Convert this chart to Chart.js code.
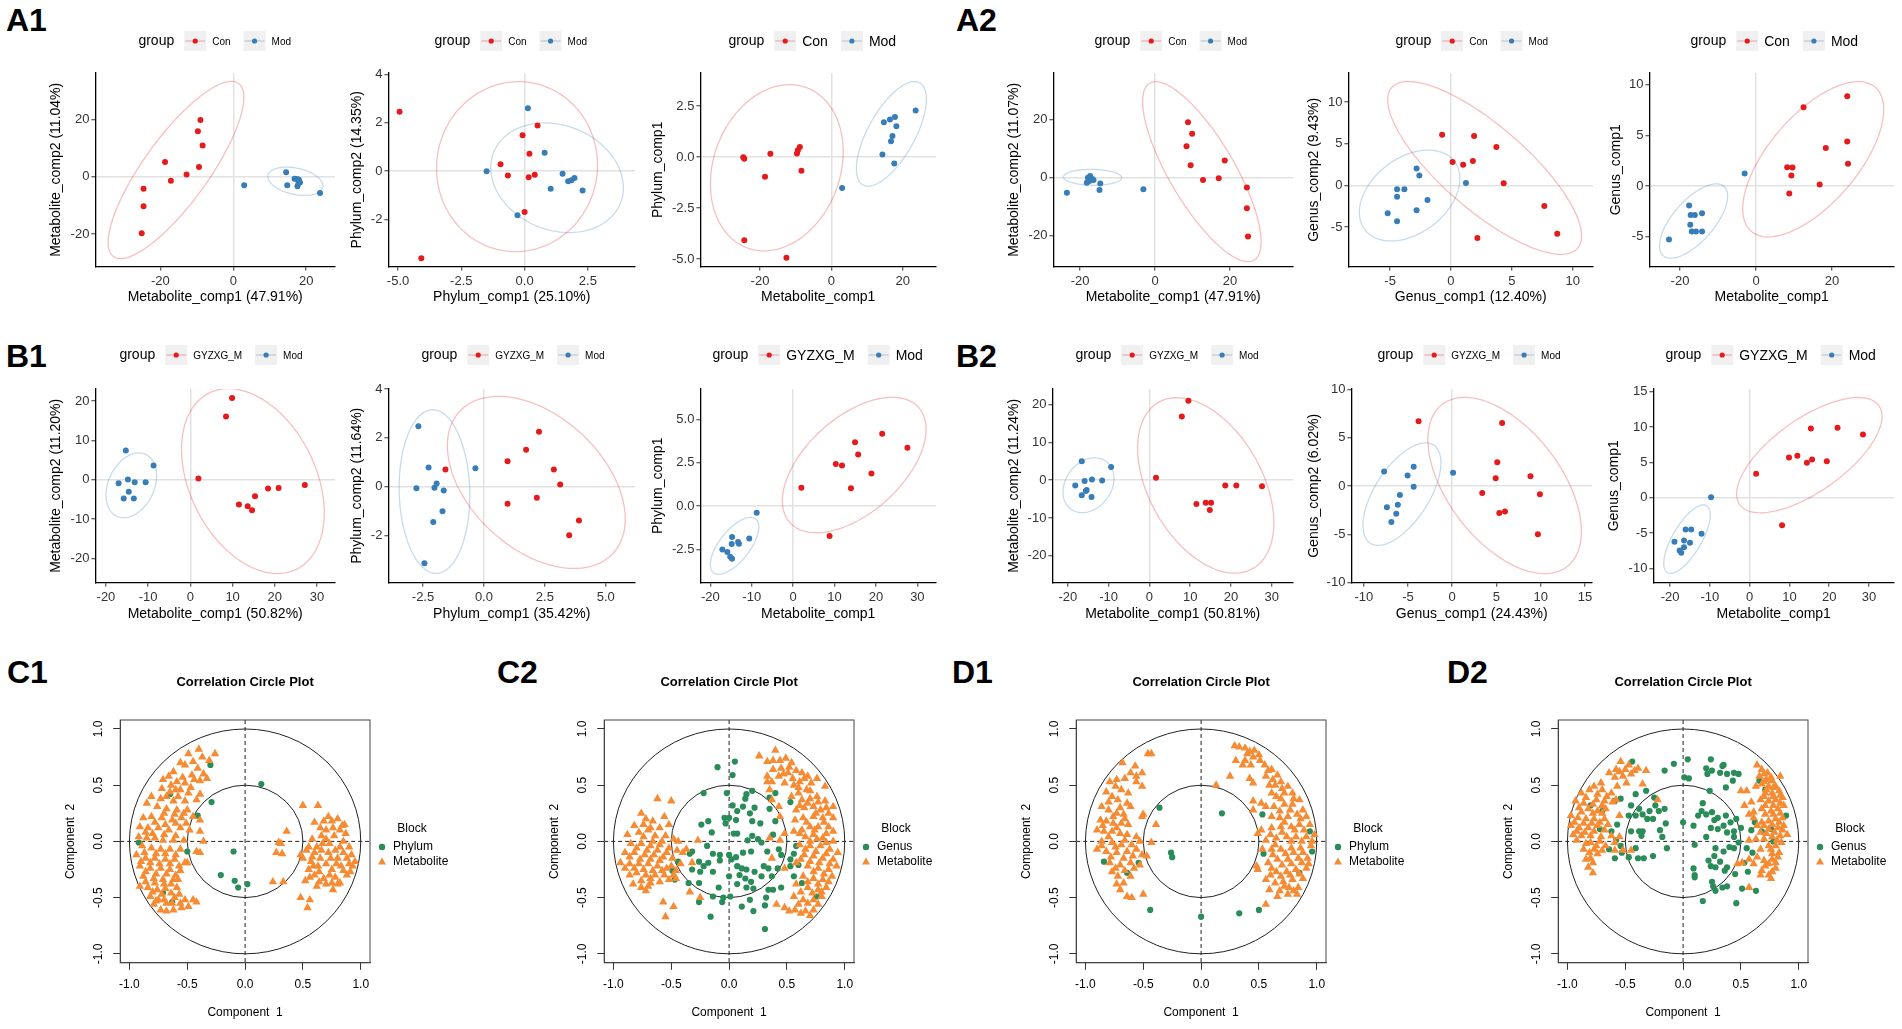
<!DOCTYPE html>
<html>
<head>
<meta charset="utf-8">
<script src="https://cdn.jsdelivr.net/npm/chart.js@4.4.1/dist/chart.umd.min.js"></script>
<style>
  body { margin: 0; background: #fff; width: 1902px; height: 1029px; overflow: hidden; position: relative; }
  canvas { position: absolute; }
  .lab { position: absolute; font: bold 32px "Liberation Sans", Arial, sans-serif; line-height: 1; color: #000; }
</style>
</head>
<body>
<div class="lab" style="left:6px;top:4px">A1</div>
<div class="lab" style="left:956px;top:4px">A2</div>
<div class="lab" style="left:6px;top:340px">B1</div>
<div class="lab" style="left:956px;top:340px">B2</div>
<div class="lab" style="left:7px;top:656px">C1</div>
<div class="lab" style="left:497px;top:656px">C2</div>
<div class="lab" style="left:952px;top:656px">D1</div>
<div class="lab" style="left:1447px;top:656px">D2</div>
<script>
// ---- group names ----
const groupsA = ["Con", "Mod"];
const groupsB = ["GYZXG_M", "Mod"];

// ---- A1 (Con vs Mod, Phylum) ----
const A1_metab_con = [[-9.0,19.8],[-9.7,15.9],[-8.4,10.9],[-18.7,5.2],[-9.4,3.4],[-12.8,0.8],[-17.1,-1.4],[-24.6,-4.2],[-24.6,-10.3],[-25.1,-19.7]];
const A1_metab_mod = [[3.0,-2.9],[14.5,1.6],[14.8,-2.9],[16.8,-0.7],[17.5,-0.8],[18.0,-1.0],[18.3,-2.0],[17.6,-3.3],[17.9,-2.2],[23.8,-5.6]];
const A1_phylum_con = [[-4.94,2.46],[0.51,1.89],[-0.08,1.49],[0.19,0.72],[-0.95,0.29],[-0.66,-0.18],[0.16,-0.25],[0.40,-0.15],[0.0,-1.70],[-4.08,-3.61]];
const A1_phylum_mod = [[0.13,2.61],[0.79,0.76],[-1.5,0],[1.5,-0.11],[1.72,-0.42],[1.85,-0.38],[1.97,-0.28],[1.03,-0.73],[2.29,-0.8],[-0.28,-1.83]];
const A1_cross_con = [[-24.7,0.0],[-24.4,-0.08],[-17.1,0.16],[-18.6,-0.96],[-9.66,0.18],[-9.4,0.34],[-8.85,0.5],[-8.4,-0.67],[-24.4,-4.07],[-12.6,-4.93]];
const A1_cross_mod = [[3.0,-1.51],[14.3,0.13],[14.7,1.71],[16.4,1.84],[17.8,1.97],[18.2,1.51],[17.1,1.03],[16.7,0.78],[17.6,-0.31],[23.6,2.28]];

// ---- A2 (Con vs Mod, Genus) ----
const A2_metab_con = [[8.8,19.2],[9.9,15.2],[8.4,10.9],[9.5,4.3],[12.8,-0.8],[18.6,6.0],[17.0,-0.2],[24.5,-3.4],[24.5,-10.5],[24.8,-20.3]];
const A2_metab_mod = [[-23.5,-5.2],[-17.9,0],[-17.3,0.6],[-16.8,-0.3],[-18.2,-1.7],[-17.5,-1.1],[-16.4,-0.8],[-14.6,-2.0],[-14.8,-4.2],[-3.1,-4.0]];
const A2_genus_con = [[-0.73,6.08],[1.9,5.92],[3.73,4.6],[0.13,2.8],[1.0,2.48],[1.8,2.92],[4.33,0.24],[7.67,-2.48],[8.73,-5.8],[2.17,-6.32]];
const A2_genus_mod = [[-2.83,2.04],[-2.6,1.2],[-4.43,-0.48],[-3.83,-0.48],[-4.43,-1.36],[-1.93,-1.76],[-2.83,-3.0],[-5.2,-3.36],[-4.43,-4.32],[1.23,0.28]];
const A2_cross_con = [[12.5,7.77],[24.0,8.85],[24.0,4.39],[18.35,3.77],[24.2,2.2],[8.2,1.87],[9.6,1.84],[9.3,1.05],[16.75,0.16],[8.75,-0.72]];
const A2_cross_mod = [[-3.0,1.25],[-17.6,-1.9],[-17.2,-2.85],[-16.1,-2.85],[-14.2,-2.66],[-17.3,-3.8],[-16.9,-4.46],[-15.8,-4.46],[-14.2,-4.46],[-22.9,-5.25]];

// ---- B1 (GYZXG_M vs Mod, Phylum) ----
const B1_metab_gy = [[9.87,20.8],[8.44,16.1],[1.9,0.34],[11.5,-6.26],[13.57,-6.68],[14.6,-7.69],[15.3,-4.14],[18.4,-2.2],[20.9,-2.03],[27.1,-1.27]];
const B1_metab_mod = [[-15.3,7.44],[-8.73,3.63],[-14.8,0.08],[-13.2,-0.59],[-10.6,-0.59],[-17.0,-0.85],[-14.6,-3.04],[-15.8,-4.73],[-13.4,-4.73]];
const B1_phylum_gy = [[-1.58,0.70],[0.97,1.04],[1.73,1.51],[2.26,2.25],[2.87,0.70],[3.13,0.08],[2.17,-0.46],[0.97,-0.71],[3.9,-1.39],[3.5,-2.0]];
const B1_phylum_mod = [[-2.69,2.47],[-2.27,0.78],[-2.77,-0.07],[-2.03,-0.05],[-1.94,0.12],[-1.65,-0.16],[-1.70,-1.01],[-2.08,-1.45],[-2.44,-3.15],[-0.35,0.75]];
const B1_cross_gy = [[1.98,1.06],[10.3,2.44],[11.8,2.35],[14.95,3.69],[15.7,2.98],[13.96,1.04],[18.9,1.88],[21.5,4.19],[27.6,3.38],[8.8,-1.73]];
const B1_cross_mod = [[-8.8,-0.38],[-10.6,-1.87],[-14.75,-1.79],[-13.3,-2.08],[-13.1,-2.17],[-14.85,-2.19],[-17.1,-2.5],[-15.9,-2.65],[-15.2,-2.92],[-14.75,-3.04]];

// ---- B2 (GYZXG_M vs Mod, Genus) ----
const B2_metab_gy = [[9.55,21.0],[7.94,16.8],[1.6,0.6],[11.5,-6.3],[13.8,-6.0],[15.1,-6.0],[14.8,-7.9],[18.6,-1.4],[21.3,-1.4],[27.6,-1.6]];
const B2_metab_mod = [[-16.6,5.0],[-9.4,3.5],[-18.2,-1.4],[-15.9,-0.26],[-14.1,0.18],[-11.6,-0.09],[-15.6,-2.9],[-16.6,-4.0],[-15.4,-2.64],[-14.2,-4.48]];
const B2_genus_gy = [[-3.81,6.72],[5.64,6.55],[5.09,2.48],[4.91,0.83],[8.85,1.03],[3.39,-0.72],[9.91,-0.83],[5.32,-2.79],[5.96,-2.62],[9.68,-5.0]];
const B2_genus_mod = [[-7.7,1.52],[-4.36,2.0],[-5.05,1.1],[-4.36,-0.07],[-5.92,-0.93],[-7.39,-2.2],[-6.15,-1.93],[-6.33,-2.86],[-6.88,-3.72],[0.09,1.38]];
const B2_cross_gy = [[1.63,3.4],[9.9,5.7],[12.0,5.94],[15.4,9.81],[14.4,4.95],[15.7,5.42],[19.4,5.19],[22.1,9.91],[28.5,8.96],[8.16,-3.87]];
const B2_cross_mod = [[-9.7,0.09],[-12.1,-5.09],[-16.1,-4.48],[-14.7,-4.48],[-16.5,-6.04],[-15.0,-6.37],[-18.9,-6.23],[-17.6,-7.45],[-16.5,-6.98],[-17.2,-7.78]];

// ---- confidence ellipses: [xmin, xmax, ymin, ymax, x at top] ----
const A1_metab_ell = [[-34.3,2.9,-28.5,33.3,-0.5],[9.5,24.6,-6.5,3.4,14.6]];
const A1_phylum_ell = [[-3.48,2.88,-3.34,3.71,-0.24],[-1.34,3.9,-2.55,2.0,0.8]];
const A1_cross_ell = [[-33.9,3.3,-4.59,3.55,-11.7],[7.0,26.6,-1.42,3.7,23.3]];
const A2_metab_ell = [[-3.3,28.3,-29,33.2,0.2],[-24.4,-8.9,-2.6,2.9,-17]];
const A2_genus_ell = [[-5.2,10.73,-8.28,12.48,-3.5],[-7.53,0.73,-6.68,4.24,-1.87]];
const A2_cross_ell = [[-3.5,33.6,-5.0,10.3,26.9],[-25.4,-7.47,-7.1,0.23,-10.45]];
const B1_metab_ell = [[-2.1,31.7,-23.8,23.2,9],[-20,-8,-9.6,6.85,-12.2]];
const B1_phylum_ell = [[-1.5,5.8,-3.36,3.7,0.6],[-3.48,-0.58,-3.56,3.15,-2.1]];
const B1_cross_ell = [[-2.6,32.1,-1.54,6.29,23.9],[-20.0,-8.3,-3.94,-0.65,-10.3]];
const B2_metab_ell = [[-2.9,30.5,-24.6,21.8,6.7],[-21.2,-8.7,-8.6,5.9,-13.4]];
const B2_genus_ell = [[-2.75,14.6,-9.07,9.2,1.4],[-10.1,-1.28,-6.14,4.48,-3.0]];
const B2_cross_ell = [[-3.27,33.3,-2.12,14.2,27.3],[-21.6,-9.9,-10.7,-1.0,-11.6]];

// ---- tick values ----
const ticks20 = [-20, 0, 20];
const ticks10 = [-20, -10, 0, 10, 20, 30];
const ticks10y = [-20, -10, 0, 10, 20];
const ticksPhyA1x = [-5, -2.5, 0, 2.5];
const ticksPhyA1y = [-2, 0, 2, 4];
const ticksHalf = [-5, -2.5, 0, 2.5];
const ticks5 = [-5, 0, 5, 10];
const ticksB1px = [-2.5, 0, 2.5, 5];
const ticksB1cy = [-2.5, 0, 2.5, 5];
const ticksB2gx = [-10, -5, 0, 5, 10, 15];
const ticksB2gy = [-10, -5, 0, 5, 10];
const ticksB2cy = [-10, -5, 0, 5, 10, 15];
const ticksCircle = [-1, -0.5, 0, 0.5, 1];

// ---- correlation circle data ----
const C1_phylum = [[-0.30,0.68],[0.14,0.51],[-0.29,0.35],[-0.41,0.23],[-0.50,-0.09],[-0.10,-0.09],[-0.21,-0.30],[-0.09,-0.35],[-0.06,-0.41],[0.02,-0.38],[-0.71,-0.46],[-0.63,-0.54],[-0.65,0.42],[-0.92,-0.01]];
const C1_metab = [
 [-0.49,0.78],[-0.40,0.82],[-0.26,0.78],[-0.31,0.72],[-0.37,0.75],[-0.45,0.71],[-0.52,0.68],[-0.56,0.70],[-0.41,0.65],[-0.36,0.60],[-0.33,0.56],[-0.39,0.54],[-0.46,0.59],[-0.62,0.62],[-0.66,0.58],[-0.71,0.55],[-0.59,0.53],[-0.52,0.52],
 [-0.72,0.47],[-0.65,0.44],[-0.56,0.46],[-0.49,0.43],[-0.39,0.42],[-0.42,0.37],[-0.52,0.36],[-0.62,0.36],[-0.73,0.38],[-0.81,0.40],[-0.85,0.34],[-0.76,0.31],[-0.68,0.29],[-0.59,0.28],[-0.50,0.28],[-0.45,0.22],[-0.55,0.21],[-0.63,0.19],[-0.72,0.21],[-0.81,0.22],[-0.88,0.21],[-0.91,0.13],[-0.84,0.12],[-0.75,0.12],[-0.66,0.10],[-0.56,0.12],[-0.48,0.10],[-0.39,0.09],[-0.36,0.0],[-0.42,-0.09],[-0.39,0.19],
 [-0.92,0.04],[-0.85,0.03],[-0.78,0.03],[-0.71,0.01],[-0.62,0.01],[-0.53,0.01],[-0.89,-0.04],[-0.81,-0.06],[-0.73,-0.07],[-0.65,-0.07],[-0.56,-0.07],[-0.94,-0.12],[-0.86,-0.15],[-0.78,-0.15],[-0.69,-0.16],[-0.61,-0.16],[-0.52,-0.19],[-0.91,-0.22],[-0.82,-0.24],[-0.73,-0.24],[-0.65,-0.25],[-0.56,-0.26],[-0.88,-0.31],[-0.79,-0.33],[-0.71,-0.34],[-0.62,-0.34],[-0.59,-0.41],[-0.91,-0.40],[-0.84,-0.41],[-0.76,-0.43],[-0.69,-0.42],
 [-0.82,-0.49],[-0.75,-0.52],[-0.68,-0.55],[-0.73,-0.61],[-0.68,-0.62],[-0.62,-0.61],[-0.55,-0.59],[-0.49,-0.58],[-0.42,-0.54],[-0.45,-0.52],[-0.52,-0.52],[-0.61,-0.50],[-0.79,-0.56],[-0.58,-0.34],[-0.50,-0.19],[-0.39,-0.10],
 [-0.60,0.46],[-0.68,0.40],[-0.58,0.40],[-0.47,0.48],[-0.44,0.55],[-0.54,0.57],[-0.64,0.50],[-0.70,0.25],[-0.61,0.24],[-0.53,0.25],[-0.78,0.17],[-0.69,0.15],[-0.60,0.16],[-0.51,0.16],[-0.86,0.08],[-0.80,0.07],[-0.70,0.06],[-0.60,0.05],[-0.87,-0.10],[-0.77,-0.11],[-0.69,-0.11],[-0.60,-0.12],[-0.90,-0.18],[-0.82,-0.19],[-0.74,-0.20],[-0.65,-0.20],[-0.57,-0.22],[-0.86,-0.27],[-0.77,-0.29],[-0.68,-0.29],[-0.60,-0.30],[-0.86,-0.36],[-0.78,-0.37],[-0.70,-0.38],[-0.64,-0.38],[-0.80,-0.45],[-0.72,-0.47],[-0.64,-0.46],[-0.57,-0.47],[-0.70,-0.52],[-0.63,-0.55],[-0.56,-0.55],[-0.77,-0.53],
 [0.50,0.32],[0.63,0.32],[0.36,0.09],[0.29,-0.01],[0.31,-0.02],[0.27,-0.10],[0.32,-0.11],[0.24,-0.36],[0.33,-0.36],[0.48,-0.50],[0.56,-0.52],[0.54,-0.59],[0.76,-0.43],[0.82,-0.37],[0.86,0.15],
 [0.55,-0.05],[0.60,-0.10],[0.65,-0.15],[0.70,-0.20],[0.75,-0.25],[0.80,-0.15],[0.85,-0.10],[0.90,-0.20],[0.93,-0.22],[0.88,-0.30],[0.78,-0.32],[0.68,-0.33],[0.60,-0.30],[0.55,-0.25],[0.50,-0.15],[0.52,-0.35],[0.62,-0.40],[0.72,-0.10],[0.77,0.05],[0.70,0.10],[0.75,0.18],[0.80,0.20],[0.82,0.10],[0.66,0.05],[0.60,0.17],[0.85,0.00],[0.90,-0.05],[0.95,-0.18],[0.73,-0.02],[0.63,-0.22],[0.57,-0.18],[0.83,-0.22],[0.68,0.18],[0.78,-0.08],[0.87,0.07],[0.48,-0.12],[0.58,0.02],[0.70,-0.38],[0.80,-0.38],[0.65,0.12],[0.72,0.22],[0.62,-0.05],[0.92,-0.12],[0.53,-0.08],
 [0.58,-0.14],[0.66,-0.08],[0.74,-0.15],[0.82,-0.05],[0.88,-0.15],[0.85,-0.26],[0.73,-0.30],[0.64,-0.27],[0.56,-0.32],[0.67,-0.02],[0.76,0.12],[0.70,0.02],[0.79,-0.20],[0.91,-0.27],[0.59,-0.22],[0.64,-0.36],[0.75,-0.37],[0.84,0.14]
];

const C2_genus = [
 [-0.10,0.66],[0.05,0.71],[0.03,0.59],[-0.22,0.43],[-0.02,0.43],[0.15,0.42],[0.20,0.45],[0.14,0.38],[0.03,0.32],[0.12,0.31],[0.22,0.30],[0.07,0.27],[0.18,0.25],[0.35,0.29],[-0.04,0.21],[0.0,0.21],[0.06,0.19],[0.20,0.18],[0.27,0.16],[0.40,0.18],[-0.24,0.15],[-0.18,0.18],[-0.03,0.16],[-0.15,0.08],[0.04,0.07],[0.07,0.07],[0.20,0.05],[0.38,0.06],[0.16,0.01],[0.25,0.02],[0.28,-0.01],
 [-0.19,-0.04],[-0.32,-0.09],[-0.34,-0.11],[-0.14,-0.11],[-0.08,-0.12],[0.0,-0.12],[0.06,-0.14],[0.12,-0.10],[0.19,-0.09],[0.33,-0.09],[0.45,-0.12],[-0.44,-0.18],[-0.26,-0.18],[-0.18,-0.19],[-0.08,-0.17],[0.02,-0.16],[0.07,-0.22],[0.11,-0.24],[0.15,-0.25],[0.22,-0.27],[0.30,-0.22],[0.34,-0.24],[0.42,-0.24],[0.53,-0.22],
 [-0.49,-0.26],[-0.32,-0.25],[-0.25,-0.27],[-0.22,-0.22],[-0.14,-0.27],[0.0,-0.31],[0.09,-0.30],[0.14,-0.33],[0.19,-0.36],[0.28,-0.31],[0.37,-0.31],[-0.47,-0.34],[-0.35,-0.37],[-0.26,-0.37],[-0.09,-0.41],[0.07,-0.38],[0.15,-0.41],[0.21,-0.42],[0.34,-0.43],[0.38,-0.43],[0.45,-0.41],
 [-0.14,-0.49],[-0.05,-0.50],[-0.06,-0.54],[0.01,-0.49],[0.18,-0.52],[0.32,-0.50],[-0.26,-0.54],[0.11,-0.58],[0.21,-0.62],[0.31,-0.57],[-0.16,-0.67],[0.31,-0.78],
 [0.56,-0.11],[0.53,-0.16],[0.58,-0.04],[0.56,-0.31],[0.63,-0.37],[0.76,-0.49],[0.40,0.43],[0.35,0.39],[0.53,0.35],[0.43,-0.07],[0.60,-0.21]
];
const C2_metab = [
 [-0.62,0.38],[-0.50,0.36],[-0.56,0.22],[-0.76,0.25],[-0.72,0.20],[-0.66,0.18],[-0.60,0.12],[-0.52,0.15],[-0.82,0.14],[-0.78,0.08],[-0.70,0.10],[-0.64,0.05],[-0.55,0.05],[-0.48,0.02],[-0.88,0.06],[-0.85,-0.02],[-0.76,-0.02],[-0.68,-0.04],[-0.60,-0.03],[-0.52,-0.06],[-0.45,-0.08],[-0.90,-0.10],[-0.82,-0.10],[-0.73,-0.12],[-0.65,-0.12],[-0.57,-0.14],[-0.49,-0.15],[-0.94,-0.19],[-0.86,-0.20],[-0.78,-0.20],[-0.70,-0.20],[-0.62,-0.22],[-0.54,-0.24],[-0.46,-0.26],[-0.90,-0.24],[-0.80,-0.28],[-0.72,-0.30],[-0.64,-0.30],[-0.56,-0.30],[-0.48,-0.30],[-0.76,-0.35],[-0.68,-0.37],[-0.60,-0.36],[-0.83,-0.38],[-0.76,-0.41],[-0.70,-0.40],[-0.57,-0.54],[-0.48,-0.58],[-0.55,-0.67],[-0.27,0.01],[-0.37,-0.07],[-0.32,-0.19],[-0.34,-0.45],[-0.25,-0.50],[-0.46,-0.33],[-0.42,-0.20],[-0.40,-0.10],[-0.44,0.0],
 [-0.74,0.15],[-0.68,0.12],[-0.74,0.04],[-0.66,0.0],[-0.58,0.0],[-0.80,-0.06],[-0.71,-0.08],[-0.62,-0.08],[-0.54,-0.10],[-0.86,-0.14],[-0.77,-0.16],[-0.68,-0.16],[-0.60,-0.17],[-0.82,-0.24],[-0.74,-0.25],[-0.66,-0.26],[-0.58,-0.26],[-0.50,-0.22],[-0.86,-0.30],[-0.68,-0.33],[-0.52,-0.34],[-0.72,-0.44],
 [0.26,0.76],[0.40,0.81],[0.33,0.71],[0.38,0.72],[0.44,0.72],[0.49,0.74],[0.54,0.70],[0.45,0.65],[0.38,0.64],[0.33,0.58],[0.37,0.53],[0.43,0.58],[0.51,0.61],[0.58,0.63],[0.63,0.61],[0.68,0.58],[0.61,0.53],[0.56,0.50],[0.48,0.52],[0.71,0.52],[0.67,0.46],[0.60,0.43],[0.54,0.40],[0.63,0.37],[0.70,0.38],[0.76,0.40],[0.83,0.36],[0.73,0.31],[0.65,0.30],[0.58,0.28],[0.79,0.28],[0.86,0.25],[0.90,0.21],[0.81,0.21],[0.73,0.22],[0.64,0.21],[0.57,0.19],[0.70,0.13],[0.77,0.13],[0.86,0.13],[0.63,0.10],[0.56,0.09],[0.90,0.09],[0.73,0.06],[0.66,0.04],[0.81,0.03],[0.90,0.0],
 [0.61,-0.03],[0.70,-0.04],[0.79,-0.04],[0.87,-0.07],[0.94,-0.10],[0.65,-0.12],[0.73,-0.13],[0.81,-0.15],[0.90,-0.16],[0.58,-0.19],[0.68,-0.22],[0.77,-0.24],[0.86,-0.25],[0.93,-0.22],[0.64,-0.31],[0.73,-0.33],[0.81,-0.34],[0.89,-0.31],[0.58,-0.38],[0.68,-0.41],[0.77,-0.43],[0.84,-0.41],[0.56,-0.49],[0.64,-0.52],[0.73,-0.52],[0.80,-0.49],[0.41,-0.56],[0.48,-0.59],[0.57,-0.61],[0.66,-0.62],[0.73,-0.61],[0.68,-0.55],
 [0.33,0.53],[0.35,0.46],[0.37,0.37],[0.43,0.31],[0.44,0.22],[0.35,0.03],[0.44,0.01],[0.48,0.07],[0.37,-0.15],[0.48,-0.24],[0.76,0.56],[0.83,0.49],[0.90,0.31],
 [0.52,0.66],[0.47,0.60],[0.55,0.56],[0.65,0.56],[0.60,0.48],[0.70,0.45],[0.77,0.35],[0.68,0.34],[0.61,0.32],[0.75,0.25],[0.84,0.30],[0.67,0.17],[0.82,0.17],[0.74,0.10],[0.84,0.07],[0.61,0.07],[0.70,0.00],[0.76,0.02],[0.84,-0.01],[0.66,-0.07],[0.75,-0.09],[0.84,-0.11],[0.62,-0.16],[0.70,-0.18],[0.78,-0.19],[0.87,-0.20],[0.73,-0.27],[0.82,-0.29],[0.68,-0.36],[0.77,-0.38],[0.86,-0.36],[0.62,-0.45],[0.72,-0.46],[0.80,-0.45],[0.60,-0.56],[0.77,-0.56],[0.52,-0.62],[0.70,-0.66],[0.62,-0.64]
];

const D1_phylum = [[-0.36,0.30],[0.18,0.25],[0.53,0.24],[0.94,0.09],[-0.26,-0.10],[-0.25,-0.14],[0.54,-0.11],[-0.84,-0.18],[-0.54,-0.19],[-0.64,-0.28],[0.85,-0.28],[-0.44,-0.61],[0.0,-0.67],[0.33,-0.64],[0.50,-0.61],[0.96,-0.09]];
const D1_metab = [
 [-0.46,0.78],[-0.43,0.78],[-0.68,0.70],[-0.57,0.67],[-0.61,0.61],[-0.51,0.61],[-0.66,0.56],[-0.73,0.55],[-0.79,0.53],[-0.56,0.53],[-0.51,0.49],[-0.82,0.44],[-0.74,0.49],[-0.69,0.46],[-0.77,0.40],[-0.72,0.37],[-0.64,0.34],[-0.61,0.31],[-0.86,0.31],[-0.80,0.28],[-0.73,0.25],[-0.67,0.24],[-0.50,0.24],[-0.87,0.19],[-0.82,0.18],[-0.76,0.16],[-0.69,0.16],[-0.63,0.15],[-0.90,0.10],[-0.84,0.09],[-0.77,0.09],[-0.70,0.07],[-0.64,0.06],[-0.56,0.04],[-0.53,0.0],[-0.86,0.0],[-0.77,-0.01],[-0.69,-0.03],[-0.90,-0.07],[-0.82,-0.09],[-0.73,-0.10],[-0.64,-0.09],[-0.56,-0.07],[-0.51,-0.12],[-0.47,-0.13],[-0.43,-0.01],[-0.79,-0.19],[-0.70,-0.21],[-0.61,-0.19],[-0.53,-0.21],[-0.77,-0.27],[-0.72,-0.31],[-0.67,-0.37],[-0.73,-0.38],[-0.61,-0.31],[-0.64,-0.49],[-0.60,-0.50],[-0.50,-0.47],[-0.39,0.15],[-0.51,0.22],[-0.59,-0.13],
 [-0.80,0.35],[-0.70,0.30],[-0.76,0.22],[-0.66,0.20],[-0.85,0.14],[-0.73,0.12],[-0.80,0.04],[-0.66,0.01],[-0.74,-0.05],[-0.86,-0.04],[-0.60,-0.03],[-0.78,-0.14],[-0.67,-0.15],[-0.74,-0.24],[-0.66,-0.26],[-0.70,-0.43],[-0.58,-0.24],[-0.63,0.43],[-0.56,0.58],
 [0.29,0.85],[0.33,0.84],[0.38,0.83],[0.42,0.80],[0.46,0.81],[0.45,0.75],[0.51,0.72],[0.55,0.68],[0.38,0.72],[0.30,0.72],[0.36,0.68],[0.43,0.68],[0.61,0.64],[0.66,0.59],[0.69,0.53],[0.62,0.55],[0.56,0.58],[0.75,0.49],[0.79,0.43],[0.72,0.43],[0.65,0.40],[0.59,0.50],[0.85,0.37],[0.79,0.33],[0.72,0.33],[0.63,0.31],[0.56,0.31],[0.88,0.28],[0.91,0.22],[0.83,0.24],[0.75,0.22],[0.68,0.21],[0.61,0.22],[0.94,0.15],[0.85,0.15],[0.78,0.13],[0.69,0.13],[0.61,0.12],[0.52,0.10],[0.98,0.06],[0.91,0.04],[0.82,0.04],[0.74,0.04],[0.65,0.03],[0.56,0.01],[0.49,0.07],
 [0.95,-0.04],[0.86,-0.06],[0.78,-0.06],[0.69,-0.07],[0.61,-0.07],[0.92,-0.15],[0.84,-0.15],[0.75,-0.16],[0.66,-0.16],[0.58,-0.19],[0.91,-0.24],[0.82,-0.25],[0.74,-0.27],[0.65,-0.27],[0.56,-0.34],[0.88,-0.33],[0.79,-0.34],[0.71,-0.36],[0.64,-0.37],[0.76,-0.41],[0.84,-0.41],[0.68,-0.44],[0.75,-0.47],[0.83,-0.47],[0.66,-0.49],[0.56,-0.56],[0.59,-0.43],[0.49,-0.25],[0.48,-0.22],[0.53,-0.07],
 [0.13,0.50],[0.25,0.58],[0.42,0.56],[0.45,0.52],[0.45,0.36],[0.52,0.34],[0.45,0.28],[0.61,0.43],[0.69,0.38],
 [0.40,0.78],[0.50,0.77],[0.58,0.63],[0.64,0.50],[0.70,0.47],[0.80,0.38],[0.68,0.27],[0.77,0.28],[0.86,0.20],[0.72,0.17],[0.81,0.10],[0.89,0.10],[0.60,0.06],[0.70,0.08],[0.78,0.00],[0.87,0.00],[0.64,-0.03],[0.73,-0.11],[0.80,-0.10],[0.88,-0.10],[0.62,-0.12],[0.70,-0.21],[0.78,-0.20],[0.87,-0.19],[0.61,-0.24],[0.69,-0.31],[0.77,-0.30],[0.85,-0.29],[0.60,-0.30],[0.72,-0.40],[0.80,-0.44],[0.93,-0.20],[0.96,0.0]
];

const D2_genus = [
 [-0.44,0.71],[-0.08,0.69],[-0.16,0.63],[0.04,0.73],[0.01,0.57],[0.05,0.56],[0.20,0.65],[0.24,0.73],[0.25,0.63],[0.21,0.60],[0.32,0.61],[0.35,0.68],[0.34,0.67],[0.38,0.60],[0.44,0.61],[0.48,0.60],[0.43,0.54],[0.37,0.48],[0.23,0.45],
 [-0.41,0.42],[-0.32,0.45],[-0.59,0.36],[-0.54,0.38],[-0.45,0.32],[-0.25,0.39],[-0.24,0.32],[-0.16,0.29],[-0.21,0.27],[-0.29,0.27],[-0.38,0.29],[-0.47,0.23],[-0.41,0.23],[-0.35,0.24],[-0.31,0.20],[-0.26,0.20],[-0.15,0.16],[-0.20,0.10],[0.0,0.17],[-0.35,0.09],[-0.38,0.09],[-0.45,0.09],[-0.36,0.05],[-0.57,0.15],[-0.62,0.09],[-0.58,0.01],[-0.53,-0.10],[-0.59,-0.15],[-0.47,-0.14],[-0.39,-0.15],[-0.34,-0.15],[-0.41,-0.06],[-0.26,-0.13],[-0.14,-0.06],
 [0.10,-0.03],[0.09,0.14],[0.13,0.23],[0.17,0.34],[0.16,0.27],[0.20,0.24],[0.25,0.26],[0.27,0.19],[0.30,0.21],[0.37,0.23],[0.41,0.17],[0.46,0.20],[0.50,0.12],[0.24,0.12],[0.20,0.04],[0.30,0.11],[0.35,0.14],[0.38,0.08],[0.44,0.09],[0.44,0.04],[0.48,-0.01],[0.44,-0.06],[0.40,-0.05],[0.35,-0.09],[0.28,-0.06],[0.27,-0.13],[0.22,-0.17],[0.24,-0.22],[0.28,-0.23],[0.32,-0.18],[0.38,-0.23],[0.36,-0.26],[0.45,-0.29],[0.53,-0.19],[0.55,-0.06],[0.60,-0.10],[0.56,-0.27],
 [0.09,-0.24],[0.10,-0.30],[0.10,-0.32],[0.25,-0.36],[0.26,-0.40],[0.28,-0.44],[0.34,-0.41],[0.38,-0.40],[0.17,-0.53],[0.46,-0.55],[0.51,-0.42],[0.63,-0.44],[0.62,0.17],[0.59,0.10],[0.68,0.09],[0.76,0.11],[0.78,0.0],[0.89,0.23],[0.71,0.46],[0.66,0.54],
 [-0.64,-0.07],[-0.70,0.27],[-0.80,0.32],[-0.72,0.11],[-0.54,-0.04],[-0.18,0.04]
];
const D2_metab = [
 [-0.54,0.71],[-0.47,0.68],[-0.39,0.65],[-0.32,0.63],[-0.58,0.64],[-0.64,0.61],[-0.59,0.57],[-0.52,0.58],[-0.45,0.60],[-0.49,0.52],[-0.57,0.49],[-0.35,0.51],[-0.71,0.52],[-0.77,0.49],[-0.81,0.46],[-0.70,0.46],[-0.62,0.43],[-0.88,0.43],[-0.84,0.39],[-0.75,0.37],[-0.68,0.36],[-0.61,0.35],[-0.93,0.36],[-0.90,0.30],[-0.82,0.29],[-0.74,0.27],[-0.67,0.29],[-0.97,0.23],[-0.91,0.21],[-0.84,0.20],[-0.77,0.20],[-0.68,0.20],[-0.97,0.14],[-0.90,0.12],[-0.82,0.12],[-0.74,0.14],[-0.65,0.15],[-0.95,0.06],[-0.88,0.05],[-0.80,0.05],[-0.71,0.04],[-0.62,0.05],[-0.55,0.04],[-0.84,-0.02],[-0.75,-0.04],[-0.67,-0.04],[-0.59,-0.01],[-0.81,-0.10],[-0.74,-0.11],[-0.78,-0.19],[-0.82,-0.23],[-0.78,-0.28],[-0.84,-0.16],[-0.70,-0.08],[-0.45,-0.08],[-0.52,-0.08],[-0.59,-0.08],[-0.22,0.37],[-0.58,0.37],[-0.55,0.23],
 [-0.86,0.34],[-0.78,0.33],[-0.70,0.32],[-0.88,0.26],[-0.78,0.25],[-0.70,0.25],[-0.94,0.17],[-0.86,0.16],[-0.79,0.16],[-0.72,0.17],[-0.92,0.09],[-0.85,0.08],[-0.77,0.09],[-0.68,0.10],[-0.92,0.01],[-0.80,-0.01],[-0.72,0.0],[-0.77,-0.07],[-0.86,-0.07],[-0.80,-0.15],[-0.74,0.42],[-0.66,0.40],[-0.55,0.62],[-0.50,0.64],[-0.42,0.63],
 [0.64,0.68],[0.68,0.64],[0.73,0.61],[0.66,0.58],[0.72,0.55],[0.77,0.54],[0.80,0.49],[0.74,0.49],[0.68,0.51],[0.63,0.49],[0.83,0.45],[0.77,0.43],[0.71,0.43],[0.55,0.45],[0.50,0.45],[0.86,0.39],[0.80,0.37],[0.74,0.36],[0.67,0.37],[0.59,0.35],[0.87,0.32],[0.82,0.29],[0.76,0.27],[0.68,0.29],[0.61,0.26],[0.86,0.21],[0.80,0.20],[0.74,0.18],[0.68,0.17],[0.61,0.21],[0.87,0.14],[0.82,0.12],[0.74,0.11],[0.67,0.08],[0.90,0.06],[0.84,0.05],[0.77,0.04],[0.70,0.02],[0.63,0.02],[0.57,0.01],[0.85,-0.01],[0.80,-0.04],[0.74,-0.04],[0.67,-0.07],[0.83,-0.10],[0.77,-0.11],[0.64,-0.14],[0.57,-0.16],[0.51,-0.19],[0.61,-0.20],[0.80,-0.19],[0.74,-0.20],[0.80,-0.24],[0.68,-0.26],[0.74,-0.30],[0.67,-0.30],[0.76,-0.33],[0.57,-0.41],[0.47,-0.20],[0.57,0.24],[0.53,0.32],[0.84,0.58],[0.64,0.14],
 [0.70,0.60],[0.76,0.57],[0.70,0.53],[0.78,0.48],[0.72,0.46],[0.84,0.41],[0.78,0.40],[0.70,0.40],[0.84,0.34],[0.78,0.32],[0.71,0.32],[0.84,0.25],[0.78,0.24],[0.71,0.24],[0.83,0.17],[0.77,0.15],[0.70,0.14],[0.79,0.08],[0.86,0.10],[0.72,0.07],[0.81,0.01],[0.76,-0.07],[0.82,-0.14],[0.77,-0.16],[0.70,-0.17],[0.77,-0.27],[0.71,-0.22]
];

// ---- styling ----
const FONT = '"Liberation Sans", Arial, Helvetica, sans-serif';
const RED = "#E41A1C", BLUE = "#377EB8";
const RED_L = "rgba(228,26,28,0.28)", BLUE_L = "rgba(55,126,184,0.28)";
const GREEN = "#2A8C58", ORANGE = "#F68B33";

const rowA = { top: 20, plotTop: 73, plotBottom: 267, bottom: 306.4, legendY: 41, groups: groupsA };
const rowB = { top: 335, plotTop: 389, plotBottom: 583, bottom: 623.4, legendY: 355, groups: groupsB };

const panels = [
  { row: rowA, axisX: 95, right: 335, titleX: 56, legendX: 138, red: A1_metab_con, blue: A1_metab_mod, ell: A1_metab_ell,
    x: [-37.8, 27.9], y: [-31.3, 36.2], xt: ticks20, yt: ticks20, xd: 0, yd: 0,
    xTitle: "Metabolite_comp1 (47.91%)", yTitle: "Metabolite_comp2 (11.04%)" },
  { row: rowA, axisX: 388, right: 635, titleX: 357, legendX: 434, red: A1_phylum_con, blue: A1_phylum_mod, ell: A1_phylum_ell,
    x: [-5.38, 4.36], y: [-3.96, 4.07], xt: ticksPhyA1x, yt: ticksPhyA1y, xd: 1, yd: 0,
    xTitle: "Phylum_comp1 (25.10%)", yTitle: "Phylum_comp2 (14.35%)" },
  { row: rowA, axisX: 700, right: 936, titleX: 658, legendX: 728, big: true, red: A1_cross_con, blue: A1_cross_mod, ell: A1_cross_ell,
    x: [-36.7, 29.3], y: [-5.36, 4.12], xt: ticks20, yt: ticksHalf, xd: 0, yd: 1,
    xTitle: "Metabolite_comp1", yTitle: "Phylum_comp1" },
  { row: rowA, axisX: 1053, right: 1293, titleX: 1014, legendX: 1094, red: A2_metab_con, blue: A2_metab_mod, ell: A2_metab_ell,
    x: [-27.1, 36.8], y: [-30.7, 36.2], xt: ticks20, yt: ticks20, xd: 0, yd: 0,
    xTitle: "Metabolite_comp1 (47.91%)", yTitle: "Metabolite_comp2 (11.07%)" },
  { row: rowA, axisX: 1348, right: 1593, titleX: 1314, legendX: 1395, red: A2_genus_con, blue: A2_genus_mod, ell: A2_genus_ell,
    x: [-8.43, 11.67], y: [-9.76, 13.5], xt: ticks5, yt: ticks5, xd: 0, yd: 0,
    xTitle: "Genus_comp1 (12.40%)", yTitle: "Genus_comp2 (9.43%)" },
  { row: rowA, axisX: 1649, right: 1894, titleX: 1616, legendX: 1690, big: true, red: A2_cross_con, blue: A2_cross_mod, ell: A2_cross_ell,
    x: [-28.05, 36.3], y: [-7.93, 11.15], xt: ticks20, yt: ticks5, xd: 0, yd: 0,
    xTitle: "Metabolite_comp1", yTitle: "Genus_comp1" },
  { row: rowB, axisX: 95, right: 335, titleX: 56, legendX: 119, red: B1_metab_gy, blue: B1_metab_mod, ell: B1_metab_ell,
    x: [-22.5, 34.25], y: [-26.1, 23.1], xt: ticks10, yt: ticks10y, xd: 0, yd: 0,
    xTitle: "Metabolite_comp1 (50.82%)", yTitle: "Metabolite_comp2 (11.20%)" },
  { row: rowB, axisX: 388, right: 635, titleX: 357, legendX: 421, red: B1_phylum_gy, blue: B1_phylum_mod, ell: B1_phylum_ell,
    x: [-3.92, 6.2], y: [-3.94, 4.0], xt: ticksB1px, yt: ticksPhyA1y, xd: 1, yd: 0,
    xTitle: "Phylum_comp1 (35.42%)", yTitle: "Phylum_comp2 (11.64%)" },
  { row: rowB, axisX: 700, right: 936, titleX: 658, legendX: 712, big: true, red: B1_cross_gy, blue: B1_cross_mod, ell: B1_cross_ell,
    x: [-22.4, 34.5], y: [-4.42, 6.77], xt: ticks10, yt: ticksB1cy, xd: 0, yd: 1,
    xTitle: "Metabolite_comp1", yTitle: "Phylum_comp1" },
  { row: rowB, axisX: 1052, right: 1293, titleX: 1014, legendX: 1075, red: B2_metab_gy, blue: B2_metab_mod, ell: B2_metab_ell,
    x: [-23.8, 35.2], y: [-27.1, 24.1], xt: ticks10, yt: ticks10y, xd: 0, yd: 0,
    xTitle: "Metabolite_comp1 (50.81%)", yTitle: "Metabolite_comp2 (11.24%)" },
  { row: rowB, axisX: 1351, right: 1592, titleX: 1314, legendX: 1377, red: B2_genus_gy, blue: B2_genus_mod, ell: B2_genus_ell,
    x: [-11.4, 15.8], y: [-10.0, 10.07], xt: ticksB2gx, yt: ticksB2gy, xd: 0, yd: 0,
    xTitle: "Genus_comp1 (24.43%)", yTitle: "Genus_comp2 (6.02%)" },
  { row: rowB, axisX: 1653, right: 1894, titleX: 1614, legendX: 1665, big: true, red: B2_cross_gy, blue: B2_cross_mod, ell: B2_cross_ell,
    x: [-24.2, 36.3], y: [-12.0, 15.4], xt: ticks10, yt: ticksB2cy, xd: 0, yd: 0,
    xTitle: "Metabolite_comp1", yTitle: "Genus_comp1" }
];

const circles = [
  { boxLeft: 120, green: C1_phylum, orange: C1_metab, names: ["Phylum", "Metabolite"] },
  { boxLeft: 604, green: C2_genus, orange: C2_metab, names: ["Genus", "Metabolite"] },
  { boxLeft: 1076, green: D1_phylum, orange: D1_metab, names: ["Phylum", "Metabolite"] },
  { boxLeft: 1558, green: D2_genus, orange: D2_metab, names: ["Genus", "Metabolite"] }
];

function toXY(a) { return a.map(p => ({ x: p[0], y: p[1] })); }

// ellipse outline from its extents: x = cx + a cos t, y = cy + b cos(t + phi)
function ellipsePoints(e) {
  const cx = (e[0] + e[1]) / 2, a = (e[1] - e[0]) / 2;
  const cy = (e[2] + e[3]) / 2, b = (e[3] - e[2]) / 2;
  const c = Math.max(-0.995, Math.min(0.995, (e[4] - cx) / a));
  const ph = Math.acos(c);
  const pts = [];
  for (let i = 0; i <= 144; i++) {
    const t = i / 144 * 2 * Math.PI;
    pts.push([cx + a * Math.cos(t), cy + b * Math.cos(t + ph)]);
  }
  return pts;
}

function addCanvas(left, top, w, h) {
  const cv = document.createElement("canvas");
  cv.width = Math.round(w); cv.height = Math.round(h);
  cv.style.left = left + "px"; cv.style.top = top + "px";
  document.body.appendChild(cv);
  return cv;
}

function fixed(d) { return v => d ? Number(v).toFixed(d) : String(v); }

function makePanel(p) {
  const row = p.row;
  const yW = p.axisX - p.titleX + 8.4;
  const left = p.axisX - yW;
  const width = p.right + 6 - left;
  const cv = addCanvas(left, row.top, width, row.bottom - row.top);

  const deco = {
    id: "deco",
    beforeDatasetsDraw(chart) {
      const { ctx, chartArea: ca, scales: { x, y } } = chart;
      ctx.save();
      ctx.beginPath(); ctx.rect(ca.left, ca.top, ca.right - ca.left, ca.bottom - ca.top); ctx.clip();
      ctx.lineWidth = 1.3;
      [RED_L, BLUE_L].forEach((col, k) => {
        ctx.strokeStyle = col;
        ctx.beginPath();
        ellipsePoints(p.ell[k]).forEach((q, i) => {
          const px = x.getPixelForValue(q[0]), py = y.getPixelForValue(q[1]);
          if (i) ctx.lineTo(px, py); else ctx.moveTo(px, py);
        });
        ctx.closePath(); ctx.stroke();
      });
      ctx.restore();
    },
    afterDraw(chart) {
      const ctx = chart.ctx;
      ctx.save();
      let lx = p.legendX - left;
      const ly = row.legendY - row.top;
      ctx.textBaseline = "middle";
      ctx.fillStyle = "#000";
      ctx.font = "14px " + FONT;
      ctx.fillText("group", lx, ly);
      lx += ctx.measureText("group").width + 10;
      row.groups.forEach((g, i) => {
        ctx.fillStyle = "#F0F0F0";
        ctx.fillRect(lx, ly - 10, 22, 20);
        ctx.strokeStyle = [RED_L, BLUE_L][i]; ctx.lineWidth = 1.3;
        ctx.beginPath(); ctx.moveTo(lx + 1, ly); ctx.lineTo(lx + 21, ly); ctx.stroke();
        ctx.fillStyle = [RED, BLUE][i];
        ctx.beginPath(); ctx.arc(lx + 11, ly, 2.6, 0, Math.PI * 2); ctx.fill();
        lx += 28;
        ctx.fillStyle = "#000";
        ctx.font = (p.big ? 14 : 10) + "px " + FONT;
        ctx.fillText(g, lx, ly + 1);
        lx += ctx.measureText(g).width + 13;
      });
      ctx.restore();
    }
  };

  const zeroGrid = c => (c.tick && c.tick.value === 0) ? "#E2E2E2" : "rgba(0,0,0,0)";

  new Chart(cv, {
    type: "scatter",
    data: {
      datasets: [
        { data: toXY(p.red), pointBackgroundColor: RED, pointBorderWidth: 0, pointRadius: 3, pointHoverRadius: 3 },
        { data: toXY(p.blue), pointBackgroundColor: BLUE, pointBorderWidth: 0, pointRadius: 3, pointHoverRadius: 3 }
      ]
    },
    options: {
      responsive: false, animation: false, events: [],
      layout: { padding: { left: 0, right: 6, top: row.plotTop - row.top, bottom: 0 } },
      plugins: { legend: { display: false }, tooltip: { enabled: false } },
      scales: {
        x: {
          type: "linear", min: p.x[0], max: p.x[1],
          afterBuildTicks: s => { s.ticks = p.xt.map(v => ({ value: v })); },
          afterFit: s => { s.height = row.bottom - row.plotBottom; },
          ticks: { callback: fixed(p.xd), font: { family: FONT, size: 13 }, color: "#333", padding: 3, maxRotation: 0, autoSkip: false },
          grid: { color: zeroGrid, lineWidth: 1.5, tickColor: "#333", tickLength: 4, tickWidth: 1 },
          border: { color: "#000", width: 1.3 },
          title: { display: true, text: p.xTitle, font: { family: FONT, size: 14 }, color: "#000", padding: 0 }
        },
        y: {
          type: "linear", min: p.y[0], max: p.y[1],
          afterBuildTicks: s => { s.ticks = p.yt.map(v => ({ value: v })); },
          afterFit: s => { s.width = yW; },
          ticks: { callback: fixed(p.yd), font: { family: FONT, size: 13 }, color: "#333", padding: 2, autoSkip: false },
          grid: { color: zeroGrid, lineWidth: 1.5, tickColor: "#333", tickLength: 4, tickWidth: 1 },
          border: { color: "#000", width: 1.3 },
          title: { display: true, text: p.yTitle, font: { family: FONT, size: 14 }, color: "#000", padding: 0 }
        }
      }
    },
    plugins: [deco]
  });
}

function makeCircle(c) {
  const top = 650, boxTop = 720, boxBottom = 963, boxW = 250;
  const yW = 57.2;
  const left = c.boxLeft - yW;
  const padRight = 90;
  const bottom = 1020.2;
  const cv = addCanvas(left, top, yW + boxW + padRight, bottom - top);

  const deco = {
    id: "circ",
    beforeDatasetsDraw(chart) {
      const { ctx, chartArea: ca, scales: { x, y } } = chart;
      ctx.save();
      const cx = x.getPixelForValue(0), cy = y.getPixelForValue(0);
      const rx = x.getPixelForValue(1) - cx, ry = cy - y.getPixelForValue(1);
      ctx.strokeStyle = "#222"; ctx.lineWidth = 1;
      [1, 0.5].forEach(r => { ctx.beginPath(); ctx.ellipse(cx, cy, rx * r, ry * r, 0, 0, Math.PI * 2); ctx.stroke(); });
      ctx.setLineDash([4, 3]);
      ctx.beginPath(); ctx.moveTo(ca.left, cy); ctx.lineTo(ca.right, cy); ctx.stroke();
      ctx.beginPath(); ctx.moveTo(cx, ca.top); ctx.lineTo(cx, ca.bottom); ctx.stroke();
      ctx.setLineDash([]);
      ctx.strokeStyle = "#444";
      ctx.strokeRect(ca.left, ca.top, ca.right - ca.left, ca.bottom - ca.top);
      ctx.restore();
    },
    afterDraw(chart) {
      const { ctx, chartArea: ca, scales: { y } } = chart;
      ctx.save();
      ctx.fillStyle = "#000";
      ctx.font = "12px " + FONT;
      ctx.textAlign = "center"; ctx.textBaseline = "middle";
      y.ticks.forEach(t => {
        ctx.save();
        ctx.translate(ca.left - 22, y.getPixelForValue(t.value));
        ctx.rotate(-Math.PI / 2);
        ctx.fillText(Number(t.value).toFixed(1), 0, 0);
        ctx.restore();
      });
      ctx.font = "bold 13px " + FONT;
      ctx.fillText("Correlation Circle Plot", (ca.left + ca.right) / 2, 682 - top);
      // legend
      const bx = ca.right;
      ctx.font = "12px " + FONT;
      ctx.fillText("Block", bx + 42, 829 - top);
      ctx.textAlign = "left";
      ctx.fillStyle = GREEN;
      ctx.beginPath(); ctx.arc(bx + 12, 847 - top, 3.2, 0, Math.PI * 2); ctx.fill();
      ctx.fillStyle = ORANGE;
      const ty = 862 - top;
      ctx.beginPath(); ctx.moveTo(bx + 12, ty - 4.5); ctx.lineTo(bx + 16, ty + 2.5); ctx.lineTo(bx + 8, ty + 2.5); ctx.closePath(); ctx.fill();
      ctx.fillStyle = "#000";
      ctx.fillText(c.names[0], bx + 23, 847 - top);
      ctx.fillText(c.names[1], bx + 23, ty);
      ctx.restore();
    }
  };

  new Chart(cv, {
    type: "scatter",
    data: {
      datasets: [
        { data: toXY(c.orange), order: 0, pointStyle: "triangle", pointBackgroundColor: ORANGE, pointBorderWidth: 0, pointRadius: 4.9, pointHoverRadius: 4.9 },
        { data: toXY(c.green), order: 1, pointStyle: "circle", pointBackgroundColor: GREEN, pointBorderWidth: 0, pointRadius: 3.1, pointHoverRadius: 3.1 }
      ]
    },
    options: {
      responsive: false, animation: false, events: [],
      layout: { padding: { left: 0, right: padRight, top: boxTop - top, bottom: 0 } },
      plugins: { legend: { display: false }, tooltip: { enabled: false } },
      scales: {
        x: {
          type: "linear", min: -1.08, max: 1.08,
          afterBuildTicks: s => { s.ticks = ticksCircle.map(v => ({ value: v })); },
          afterFit: s => { s.height = bottom - boxBottom; },
          ticks: { callback: fixed(1), font: { family: FONT, size: 12 }, color: "#000", padding: 8, maxRotation: 0, autoSkip: false },
          grid: { drawOnChartArea: false, tickColor: "#333", tickLength: 7, tickWidth: 1 },
          border: { color: "#444", width: 1 },
          title: { display: true, text: "Component  1", font: { family: FONT, size: 12 }, color: "#000", padding: 0 }
        },
        y: {
          type: "linear", min: -1.08, max: 1.08,
          afterBuildTicks: s => { s.ticks = ticksCircle.map(v => ({ value: v })); },
          afterFit: s => { s.width = yW; },
          ticks: { display: false },
          grid: { drawOnChartArea: false, tickColor: "#333", tickLength: 7, tickWidth: 1 },
          border: { color: "#444", width: 1 },
          title: { display: true, text: "Component  2", font: { family: FONT, size: 12 }, color: "#000", padding: 0 }
        }
      }
    },
    plugins: [deco]
  });
}

panels.forEach(makePanel);
circles.forEach(makeCircle);
</script>
</body>
</html>
